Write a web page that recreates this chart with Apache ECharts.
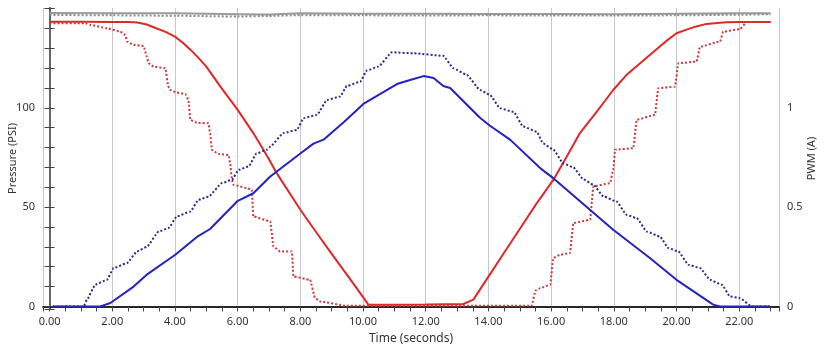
<!DOCTYPE html>
<html>
<head>
<meta charset="utf-8">
<script src="https://cdn.jsdelivr.net/npm/echarts@6/dist/echarts.min.js"></script>
<style>
  html, body { margin: 0; padding: 0; background: #fff; }
  #chart { width: 824px; height: 351px; }
</style>
</head>
<body>
<div id="chart"></div>
<script>
// values (time in seconds)
const graySolidT = [0, 2, 4, 6, 7, 8, 10, 12, 14, 16, 18, 20, 22, 23]
const graySolidV = [147.8, 147.6, 147.6, 147.2, 147.0, 147.6, 147.4, 147.4, 147.3, 147.3, 147.2, 147.4, 147.6, 147.6]
const grayDotT = [0, 2, 4, 6, 7, 8, 10, 12, 14, 16, 18, 20, 22, 23]
const grayDotV = [146.8, 146.6, 146.4, 146.0, 146.3, 146.7, 146.6, 146.5, 146.6, 146.5, 146.5, 146.6, 146.9, 147.2]

// pressure, solid red
const redSolidT = [0, 1, 2, 2.5, 2.8, 3.1, 3.4, 3.7, 4.0, 4.25, 4.5, 4.75, 5.0, 5.45, 6.0, 6.5, 6.95, 7.25, 8.0, 8.5, 9.0, 9.6, 10.17,
  11, 12, 13.2, 13.52, 14, 14.5, 15, 15.5, 16.07, 16.5, 16.92, 17.5, 17.98, 18.4, 18.84, 19.1, 19.4, 19.7, 20.0, 20.3, 20.6,
  20.96, 21.3, 21.6, 22.02, 23.0]
const redSolidV = [143.4, 143.4, 143.3, 143.2, 143, 142, 140.1, 138.3, 135.9, 132.8, 129.2, 125.2, 120.8, 110.7, 99, 87.3, 75.5, 67,
  48.7, 37.5, 26.5, 13.5, 0.9, 0.9, 1.0, 1.2, 3.4, 15, 27, 39, 51, 63.7, 75.5, 87.3, 99, 109, 116.5, 122.5, 126, 130, 134,
  137.6, 139.3, 140.9, 142.3, 142.8, 143.1, 143.3, 143.3]

// pressure, dotted red (stepped)
const redDotT = [0, 1.15, 1.3, 1.83, 2.25, 2.42, 2.47, 2.68, 3.0, 3.1, 3.16, 3.32, 3.69, 3.79, 3.85, 4.06, 4.33, 4.43, 4.49,
  4.7, 5.07, 5.12, 5.18, 5.39, 5.71, 5.76, 5.82, 5.87, 6.29, 6.45, 6.5, 7.04, 7.14, 7.36, 7.73, 7.78, 8.31, 8.47, 8.63, 9.48,
  15.38, 15.5, 15.65, 15.97, 16.07, 16.29, 16.6, 16.71, 17.24, 17.35, 17.88, 17.98, 18.04, 18.62, 18.73, 19.31, 19.42, 19.95,
  20.06, 20.64, 20.75, 21.39, 21.49, 22.02, 22.24, 23.0]
const redDotV = [142.6, 142.6, 141.8, 140.1, 138.4, 136.7, 133.4, 131.7, 131.2, 125.8, 122.5, 120.8, 120, 110.7, 109, 107.7, 107, 104, 93.9,
  92.5, 92.2, 87.2, 78.8, 76.8, 76.3, 72, 63.7, 61.2, 59.6, 58.8, 45.3, 42.8, 30.2, 27.7, 27.7, 15.1, 13.4, 4.2, 2.5, 0.3,
  0.3, 8, 9.2, 10.9, 24.4, 26, 26.9, 42, 43.6, 60.4, 62.1, 68.8, 78.9, 79.7, 94, 96.5, 109.9, 110.7,
  122.5, 123.3, 130.8, 133.4, 138.4, 139.6, 143.3, 143.3]

// PWM, solid blue
const blueSolidT = [0.1, 1.62, 1.94, 2.68, 3.1, 4.01, 4.7, 5.12, 5.99, 6.5, 7.04, 8.0, 8.42, 8.74, 9.4, 10.01, 11.08, 11.5, 11.93,
  12.25, 12.56, 12.78, 13.73, 14.05, 14.69, 15.7, 16.07, 17.98, 19.15, 20.0, 21.17, 21.39, 22.98]
const blueSolidV = [0, 0, 0.017, 0.1, 0.16, 0.26, 0.35, 0.39, 0.53, 0.57, 0.654, 0.77, 0.82, 0.84, 0.93, 1.02, 1.12, 1.14, 1.16,
  1.15, 1.11, 1.10, 0.95, 0.91, 0.84, 0.69, 0.646, 0.386, 0.244, 0.134, 0.009, 0, 0]

// PWM, dotted blue
const blueDotT = [0.1, 1.09, 1.19, 1.46, 1.83, 2.04, 2.47, 2.79, 3.1, 3.48, 3.79, 4.06, 4.49, 4.75, 5.07, 5.5, 5.82, 6.03,
  6.35, 6.6, 6.95, 7.04, 7.46, 7.89, 8.1, 8.53, 8.85, 9.27, 9.48, 9.91, 10.12, 10.49, 10.92, 11.61, 12.56, 12.88, 13.31,
  13.73, 14.05, 14.37, 14.8, 15.11, 15.54, 15.75, 16.07, 16.39, 16.71, 17.03, 17.35, 17.67, 18.09, 18.41, 18.73, 19.05,
  19.47, 19.74, 20.06, 20.38, 20.75, 21.07, 21.45, 21.71, 22.02, 22.4, 22.98]
const blueDotV = [0, 0, 0.034, 0.11, 0.134, 0.193, 0.218, 0.277, 0.3, 0.377, 0.394, 0.453, 0.478, 0.537, 0.553, 0.621, 0.638, 0.688,
  0.705, 0.77, 0.79, 0.805, 0.873, 0.889, 0.948, 0.965, 1.04, 1.057, 1.11, 1.132, 1.188, 1.208, 1.28, 1.275, 1.262, 1.2, 1.166,
  1.09, 1.065, 0.998, 0.98, 0.906, 0.88, 0.82, 0.79, 0.72, 0.70, 0.64, 0.612, 0.554, 0.528, 0.461, 0.445, 0.377,
  0.352, 0.294, 0.277, 0.21, 0.193, 0.134, 0.109, 0.05, 0.042, 0, 0]

const xName = 'Time (seconds)'
const leftName = 'Pressure (PSI)'
const rightName = 'PWM (A)'

const zip = (t, v) => t.map((x, i) => [x, v[i]])

const font = '"Noto Sans", "Open Sans", sans-serif'
const X_MIN = -0.21, X_MAX = 23.27
const Y_MIN = -1.3, Y_MAX = 150.3

const labelStyle = { color: '#333', fontSize: 11, fontFamily: font }

// only label round steps, and leave the axis ends blank
const onStep = (v, step) => Math.abs(v / step - Math.round(v / step)) < 1e-6

const chart = echarts.init(document.getElementById('chart'))

const line = (name, data, color, dotted, yIdx, width) => ({
  name: name,
  type: 'line',
  yAxisIndex: yIdx,
  data: data,
  showSymbol: false,
  smooth: dotted ? 0.15 : false,
  smoothMonotone: 'x',
  animation: false,
  lineStyle: {
    color: color,
    width: width,
    type: dotted ? [2, 2] : 'solid'
  }
})

chart.setOption({
  animation: false,
  grid: { left: 43, right: 45, top: 8, bottom: 42, containLabel: false, outerBoundsMode: 'none' },
  xAxis: [{
    type: 'value',
    min: X_MIN,
    max: X_MAX,
    splitNumber: 12,
    name: xName,
    nameLocation: 'middle',
    nameGap: 24,
    nameMoveOverlap: false,
    nameTextStyle: { color: '#333', fontSize: 12, fontFamily: font },
    axisLine: { lineStyle: { color: '#444', width: 1.5 } },
    axisTick: { length: 5, lineStyle: { color: '#444' } },
    minorTick: { show: true, splitNumber: 4, length: 5, lineStyle: { color: '#444' } },
    axisLabel: {
      ...labelStyle,
      margin: 7,
      formatter: v => (v >= 0 && v < 22.5 && onStep(v, 2) ? v.toFixed(2) : '')
    },
    splitLine: { show: true, lineStyle: { color: '#c8c8c8', width: 1 } }
  }, {
    type: 'value',
    position: 'top',
    min: X_MIN,
    max: X_MAX,
    axisLine: { show: true, lineStyle: { color: '#111', width: 1.5 } },
    axisTick: { show: false },
    axisLabel: { show: false },
    splitLine: { show: false }
  }],
  yAxis: [{
    type: 'value',
    min: Y_MIN,
    max: Y_MAX,
    splitNumber: 3,
    name: leftName,
    nameLocation: 'middle',
    nameRotate: 90,
    nameGap: 25,
    nameMoveOverlap: false,
    nameTextStyle: { color: '#333', fontSize: 11, fontFamily: font },
    axisLine: { show: true, lineStyle: { color: '#666', width: 2 } },
    axisTick: { length: 5, lineStyle: { color: '#444' } },
    minorTick: { show: true, splitNumber: 5, length: 5, lineStyle: { color: '#444' } },
    axisLabel: {
      ...labelStyle,
      margin: 8,
      formatter: v => (v > -0.5 && v < 140 && onStep(v, 50) ? String(Math.round(v)) : '')
    },
    splitLine: { show: false }
  }, {
    type: 'value',
    position: 'right',
    min: Y_MIN / 100,
    max: Y_MAX / 100,
    splitNumber: 3,
    name: rightName,
    nameLocation: 'middle',
    nameRotate: 90,
    nameGap: 27,
    nameMoveOverlap: false,
    nameTextStyle: { color: '#333', fontSize: 11, fontFamily: font },
    axisLine: { show: true, lineStyle: { color: '#666', width: 2 } },
    axisTick: { length: 5, lineStyle: { color: '#444' } },
    minorTick: { show: true, splitNumber: 5, length: 5, lineStyle: { color: '#444' } },
    axisLabel: {
      ...labelStyle,
      margin: 8,
      formatter: v => (v > -0.005 && v < 1.4 && onStep(v, 0.5) ? String(Math.round(v * 10) / 10) : '')
    },
    splitLine: { show: false }
  }],
  series: [
    line('Supply', zip(graySolidT, graySolidV), '#9a9a9a', false, 0, 2),
    line('Supply cmd', zip(grayDotT, grayDotV), '#8a8a8a', true, 0, 2),
    line('Pressure', zip(redSolidT, redSolidV), '#e02828', false, 0, 2),
    line('Pressure cmd', zip(redDotT, redDotV), '#cc3a3a', true, 0, 2),
    line('PWM', zip(blueSolidT, blueSolidV), '#2323c0', false, 1, 2),
    line('PWM cmd', zip(blueDotT, blueDotV), '#2a2a90', true, 1, 2)
  ]
})

window.addEventListener('resize', function () {
  chart.resize()
})
</script>
</body>
</html>
